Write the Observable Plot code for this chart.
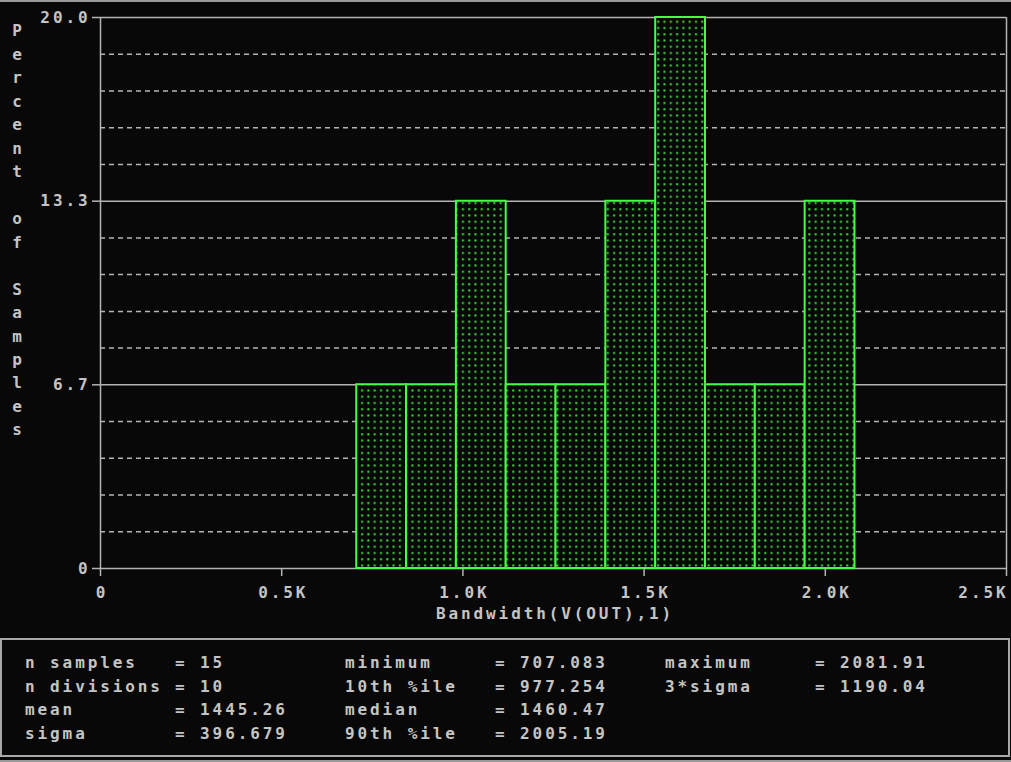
<!DOCTYPE html>
<html><head><meta charset="utf-8">
<script src="https://cdn.jsdelivr.net/npm/d3@7"></script>
<script src="https://cdn.jsdelivr.net/npm/@observablehq/plot@0.6"></script>
<style>
html,body{margin:0;padding:0;background:#080808;width:1011px;height:762px;overflow:hidden;position:relative}
#chart{position:absolute;left:0;top:0}
#chart svg text{letter-spacing:2.9px}
.stat{position:absolute;font-family:"DejaVu Sans Mono",monospace;font-weight:bold;font-size:16px;color:#c4c4c4;letter-spacing:2.9px;line-height:24px;white-space:pre}
.hline{position:absolute;left:0;width:1011px;height:2px;background:#9a9a9a}
#stats{position:absolute;left:0;top:638px;width:1006px;height:115px;border:2px solid #a8a8a8}
</style></head><body>
<div id="chart"></div>
<div class="hline" style="top:0"></div>
<div id="stats"></div>
<div class="hline" style="top:760px"></div>
<script>
// ---- data ----
const binStart = [707.1, 844.6, 982.1, 1119.5, 1257.0, 1394.5, 1532.0, 1669.4, 1806.9, 1944.4];
const binEnd   = [844.6, 982.1, 1119.5, 1257.0, 1394.5, 1532.0, 1669.4, 1806.9, 1944.4, 2081.9];
const percent  = [6.67, 6.67, 13.33, 6.67, 6.67, 13.33, 20.0, 6.67, 6.67, 13.33];
const xTicks = [0, 500, 1000, 1500, 2000, 2500];
const xTickLabels = ["0", "0.5K", "1.0K", "1.5K", "2.0K", "2.5K"];
const yTicks = [0, 6.667, 13.333, 20];
const yTickLabels = ["0", "6.7", "13.3", "20.0"];
const yMinorTicks = [1.333, 2.667, 4, 5.333, 8, 9.333, 10.667, 12, 14.667, 16, 17.333, 18.667];
const xLabel = "Bandwidth(V(OUT),1)";
const yLabel = "Percent of Samples";
const statLabels1 = ["n samples", "n divisions", "mean", "sigma"];
const statValues1 = ["15", "10", "1445.26", "396.679"];
const statLabels2 = ["minimum", "10th %ile", "median", "90th %ile"];
const statValues2 = ["707.083", "977.254", "1460.47", "2005.19"];
const statLabels3 = ["maximum", "3*sigma"];
const statValues3 = ["2081.91", "1190.04"];

// ---- style ----
const GREY = "#b4b4b4";
const TXT = "#c4c4c4";
const GREEN = "#44ff44";
const FONT = "DejaVu Sans Mono, monospace";

const bars = binStart.map((s, i) => ({x1: s, x2: binEnd[i], y: percent[i]}));
const vertical = yLabel.split("").map(c => c === " " ? "\u00a0" : c).join("\n");

const plot = Plot.plot({
  width: 1011, height: 632,
  marginLeft: 100, marginRight: 5, marginTop: 17, marginBottom: 64,
  x: {domain: [0, 2500]},
  y: {domain: [0, 20]},
  style: {background: "#080808", color: TXT, fontFamily: FONT, fontSize: "16px", fontWeight: "bold", overflow: "visible"},
  marks: [
    Plot.ruleY(yMinorTicks, {stroke: GREY, strokeWidth: 1.5, strokeDasharray: "5,4", strokeOpacity: 1}),
    Plot.ruleY(yTicks, {stroke: GREY, strokeWidth: 1.5, strokeOpacity: 1}),
    Plot.ruleX([0, 2500], {stroke: GREY, strokeWidth: 1.5, strokeOpacity: 1}),
    Plot.rect(bars, {x1: "x1", x2: "x2", y1: 0, y2: "y", fill: "url(#dots)", stroke: GREEN, strokeWidth: 2}),
    Plot.axisY({ticks: yTicks, tickFormat: d => yTickLabels[yTicks.indexOf(d)], tickSize: 8, tickPadding: 2, label: null, stroke: GREY, strokeWidth: 1.5, strokeOpacity: 1, fill: TXT}),
    Plot.axisX({ticks: xTicks, tickFormat: () => "", tickSize: 8, label: null, stroke: GREY, strokeWidth: 1.5, strokeOpacity: 1}),
    Plot.text(xTicks.slice(0, 5), {x: d => d, y: 0, text: d => xTickLabels[xTicks.indexOf(d)], dy: 24, dx: 1.5, fill: TXT}),
    Plot.text(xTicks.slice(5), {x: d => d, y: 0, text: d => xTickLabels[xTicks.indexOf(d)], dy: 24, dx: 2, textAnchor: "end", fill: TXT}),
    Plot.text([xLabel], {frameAnchor: "bottom", dy: 50, dx: 1.5, fill: TXT}),
    Plot.text([vertical], {frameAnchor: "top-left", dx: -82, dy: 2, lineAnchor: "top", lineHeight: 1.468, textAnchor: "middle", fill: TXT})
  ]
});

const svg = d3.select(plot);
const pat = svg.insert("defs", ":first-child").append("pattern")
  .attr("id", "dots").attr("patternUnits", "userSpaceOnUse")
  .attr("width", 6.3).attr("height", 6.25);
pat.append("rect").attr("width", 6.3).attr("height", 6.25).attr("fill", "#080808");
pat.append("rect").attr("x", 2).attr("y", 2).attr("width", 2).attr("height", 2).attr("fill", "#3ddd3d");

document.getElementById("chart").appendChild(plot);

// ---- statistics box ----
const body = document.body;
const rowTops = [651, 675, 698, 722];
function addCol(labels, values, x) {
  labels.forEach((l, i) => {
    const a = document.createElement("span");
    a.className = "stat"; a.textContent = l;
    a.style.left = x + "px"; a.style.top = rowTops[i] + "px";
    body.appendChild(a);
    const b = document.createElement("span");
    b.className = "stat"; b.textContent = "= " + values[i];
    b.style.left = (x + 150) + "px"; b.style.top = rowTops[i] + "px";
    body.appendChild(b);
  });
}
addCol(statLabels1, statValues1, 25);
addCol(statLabels2, statValues2, 345);
addCol(statLabels3, statValues3, 665);
</script>
</body></html>
